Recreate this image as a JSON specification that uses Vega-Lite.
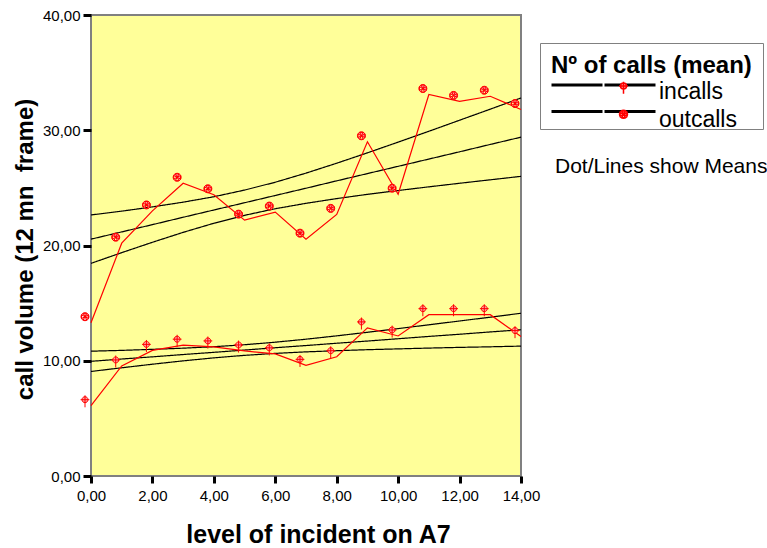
{
  "$schema": "https://vega.github.io/schema/vega-lite/v6.json",
  "width": 430,
  "height": 461,
  "autosize": {"type": "none"},
  "padding": {"left": 91, "top": 15, "right": 246, "bottom": 72},
  "background": "white",
  "title": {
    "text": "Dot/Lines show Means",
    "anchor": "start",
    "frame": "group",
    "orient": "top",
    "offset": 0,
    "dx": 464,
    "dy": 186,
    "baseline": "alphabetic",
    "font": "Liberation Sans",
    "fontSize": 21,
    "fontWeight": "normal",
    "color": "black"
  },
  "config": {
    "view": {"fill": "#FFFF99", "stroke": "#808080", "strokeWidth": 2},
    "font": "Liberation Sans",
    "axis": {
      "domain": false,
      "grid": false,
      "tickColor": "black",
      "tickWidth": 3,
      "labelFont": "Liberation Sans",
      "labelFontSize": 15,
      "labelColor": "black",
      "titleFont": "Liberation Sans",
      "titleFontWeight": "bold",
      "titleColor": "black"
    },
    "axisX": {"tickSize": 7, "labelPadding": 5, "titleFontSize": 25},
    "axisY": {"tickSize": 8, "labelPadding": 3, "titleFontSize": 24}
  },
  "datasets": {
    "means": [
      {"level": 0, "calls": "incalls", "mean": 6.1},
      {"level": 1, "calls": "incalls", "mean": 9.55},
      {"level": 2, "calls": "incalls", "mean": 10.9},
      {"level": 3, "calls": "incalls", "mean": 11.35},
      {"level": 4, "calls": "incalls", "mean": 11.2},
      {"level": 5, "calls": "incalls", "mean": 10.85},
      {"level": 6, "calls": "incalls", "mean": 10.6},
      {"level": 7, "calls": "incalls", "mean": 9.6},
      {"level": 8, "calls": "incalls", "mean": 10.35},
      {"level": 9, "calls": "incalls", "mean": 12.85},
      {"level": 10, "calls": "incalls", "mean": 12.15},
      {"level": 11, "calls": "incalls", "mean": 14.0},
      {"level": 12, "calls": "incalls", "mean": 14.0},
      {"level": 13, "calls": "incalls", "mean": 14.0},
      {"level": 14, "calls": "incalls", "mean": 12.1},
      {"level": 0, "calls": "outcalls", "mean": 13.3},
      {"level": 1, "calls": "outcalls", "mean": 20.2},
      {"level": 2, "calls": "outcalls", "mean": 23.0},
      {"level": 3, "calls": "outcalls", "mean": 25.4},
      {"level": 4, "calls": "outcalls", "mean": 24.4},
      {"level": 5, "calls": "outcalls", "mean": 22.2},
      {"level": 6, "calls": "outcalls", "mean": 22.9},
      {"level": 7, "calls": "outcalls", "mean": 20.55},
      {"level": 8, "calls": "outcalls", "mean": 22.7},
      {"level": 9, "calls": "outcalls", "mean": 29.0},
      {"level": 10, "calls": "outcalls", "mean": 24.45},
      {"level": 11, "calls": "outcalls", "mean": 33.1},
      {"level": 12, "calls": "outcalls", "mean": 32.5},
      {"level": 13, "calls": "outcalls", "mean": 32.95},
      {"level": 14, "calls": "outcalls", "mean": 31.8}
    ],
    "fits": [
      {"level": 0, "series": "incalls", "fit": 9.95, "upper": 10.83, "lower": 9.07},
      {"level": 1, "series": "incalls", "fit": 10.15, "upper": 10.9, "lower": 9.39},
      {"level": 2, "series": "incalls", "fit": 10.34, "upper": 10.99, "lower": 9.7},
      {"level": 3, "series": "incalls", "fit": 10.54, "upper": 11.09, "lower": 9.99},
      {"level": 4, "series": "incalls", "fit": 10.73, "upper": 11.22, "lower": 10.25},
      {"level": 5, "series": "incalls", "fit": 10.93, "upper": 11.39, "lower": 10.47},
      {"level": 6, "series": "incalls", "fit": 11.13, "upper": 11.61, "lower": 10.64},
      {"level": 7, "series": "incalls", "fit": 11.32, "upper": 11.87, "lower": 10.77},
      {"level": 8, "series": "incalls", "fit": 11.52, "upper": 12.16, "lower": 10.87},
      {"level": 9, "series": "incalls", "fit": 11.71, "upper": 12.47, "lower": 10.96},
      {"level": 10, "series": "incalls", "fit": 11.91, "upper": 12.79, "lower": 11.03},
      {"level": 11, "series": "incalls", "fit": 12.11, "upper": 13.12, "lower": 11.1},
      {"level": 12, "series": "incalls", "fit": 12.3, "upper": 13.45, "lower": 11.16},
      {"level": 13, "series": "incalls", "fit": 12.5, "upper": 13.78, "lower": 11.21},
      {"level": 14, "series": "incalls", "fit": 12.69, "upper": 14.12, "lower": 11.27},
      {"level": 0, "series": "outcalls", "fit": 20.55, "upper": 22.65, "lower": 18.45},
      {"level": 1, "series": "outcalls", "fit": 21.18, "upper": 22.98, "lower": 19.38},
      {"level": 2, "series": "outcalls", "fit": 21.81, "upper": 23.35, "lower": 20.28},
      {"level": 3, "series": "outcalls", "fit": 22.45, "upper": 23.76, "lower": 21.14},
      {"level": 4, "series": "outcalls", "fit": 23.08, "upper": 24.23, "lower": 21.93},
      {"level": 5, "series": "outcalls", "fit": 23.71, "upper": 24.81, "lower": 22.62},
      {"level": 6, "series": "outcalls", "fit": 24.34, "upper": 25.49, "lower": 23.19},
      {"level": 7, "series": "outcalls", "fit": 24.97, "upper": 26.28, "lower": 23.66},
      {"level": 8, "series": "outcalls", "fit": 25.61, "upper": 27.14, "lower": 24.07},
      {"level": 9, "series": "outcalls", "fit": 26.24, "upper": 28.04, "lower": 24.44},
      {"level": 10, "series": "outcalls", "fit": 26.87, "upper": 28.97, "lower": 24.77},
      {"level": 11, "series": "outcalls", "fit": 27.5, "upper": 29.91, "lower": 25.09},
      {"level": 12, "series": "outcalls", "fit": 28.13, "upper": 30.87, "lower": 25.4},
      {"level": 13, "series": "outcalls", "fit": 28.77, "upper": 31.83, "lower": 25.7},
      {"level": 14, "series": "outcalls", "fit": 29.4, "upper": 32.8, "lower": 26.0}
    ]
  },
  "layer": [
    {
      "data": {"name": "fits"},
      "transform": [{"fold": ["fit", "upper", "lower"], "as": ["band", "value"]}],
      "mark": {"type": "line", "color": "black", "strokeWidth": 1.2},
      "encoding": {
        "x": {
          "field": "level",
          "type": "quantitative",
          "scale": {"domain": [0, 14], "nice": false},
          "axis": {
            "title": "level of incident on A7",
            "values": [0, 2, 4, 6, 8, 10, 12, 14],
            "labelExpr": "replace(format(datum.value, '.2f'), '.', ',')",
            "labelFlush": false,
            "labelOverlap": false,
            "titleX": 227,
            "titleY": 66,
            "titleAlign": "center",
            "titleBaseline": "alphabetic"
          }
        },
        "y": {
          "field": "value",
          "type": "quantitative",
          "scale": {"domain": [0, 40], "nice": false},
          "axis": {
            "title": "call volume (12 mn\u00a0 frame)",
            "values": [0, 10, 20, 30, 40],
            "labelExpr": "replace(format(datum.value, '.2f'), '.', ',')",
            "labelOverlap": false,
            "titleAngle": 270,
            "titleX": -59,
            "titleY": 234,
            "titleAlign": "center",
            "titleBaseline": "alphabetic"
          }
        },
        "detail": {"field": "band"},
        "strokeDash": {
          "field": "series",
          "type": "nominal",
          "scale": {"range": [[1, 0], [1, 0]]},
          "legend": {
            "title": "Nº of calls (mean)",
            "orient": "none",
            "legendX": 449,
            "legendY": 28,
            "padding": 11,
            "strokeColor": "#808080",
            "titleFont": "Liberation Sans",
            "titleFontSize": 24,
            "titleFontWeight": "bold",
            "titleColor": "black",
            "titlePadding": 4.5,
            "titleLimit": 400,
            "labelFont": "Liberation Sans",
            "labelFontSize": 1,
            "labelOpacity": 0,
            "symbolType": "M0,0H51M53,0H104",
            "symbolSize": 4,
            "symbolStrokeColor": "black",
            "symbolStrokeWidth": 3,
            "symbolOffset": -2,
            "rowPadding": 13.5
          }
        }
      }
    },
    {
      "data": {"name": "means"},
      "mark": {"type": "line", "color": "#ff0000", "strokeWidth": 1.2},
      "encoding": {
        "x": {"field": "level", "type": "quantitative", "title": "level of incident on A7"},
        "y": {"field": "mean", "type": "quantitative", "title": "call volume (12 mn\u00a0 frame)"},
        "detail": {"field": "calls"}
      }
    },
    {
      "data": {"name": "means"},
      "mark": {
        "type": "point",
        "filled": true,
        "fill": "#ffa0a0",
        "stroke": "#ff0000",
        "strokeWidth": 1,
        "opacity": 1,
        "size": 64,
        "xOffset": -6
      },
      "encoding": {
        "x": {"field": "level", "type": "quantitative", "title": "level of incident on A7"},
        "y": {"field": "mean", "type": "quantitative", "title": "call volume (12 mn\u00a0 frame)"},
        "shape": {
          "field": "calls",
          "type": "nominal",
          "scale": {
            "range": [
              "M-0.75,-1.5A0.75,0.75 0 1,1 0.75,-1.5A0.75,0.75 0 1,1 -0.75,-1.5ZM-1.1,-1.5H1.1M0,-2.6V0.4",
              "M-1,-1.5A1,1 0 1,1 1,-1.5A1,1 0 1,1 -1,-1.5ZM0,-1.5L-0.45,-2.35L0.45,-2.35ZM0,-1.5L-0.45,-0.65L0.45,-0.65ZM0,-1.5L-0.85,-1.95L-0.85,-1.05ZM0,-1.5L0.85,-1.95L0.85,-1.05Z"
            ]
          },
          "legend": {
            "title": null,
            "orient": "none",
            "legendX": 521,
            "legendY": 65.6,
            "padding": 0,
            "symbolSize": 64,
            "symbolOffset": 0,
            "labelFont": "Liberation Sans",
            "labelFontSize": 23,
            "labelColor": "black",
            "labelOffset": 24,
            "labelLimit": 300,
            "rowPadding": 2.2,
            "encode": {
              "symbols": {
                "update": {
                  "fill": {"value": "#ffa0a0"},
                  "stroke": {"value": "#ff0000"},
                  "strokeWidth": {"value": 1},
                  "opacity": {"value": 1}
                }
              }
            }
          }
        }
      }
    }
  ]
}
